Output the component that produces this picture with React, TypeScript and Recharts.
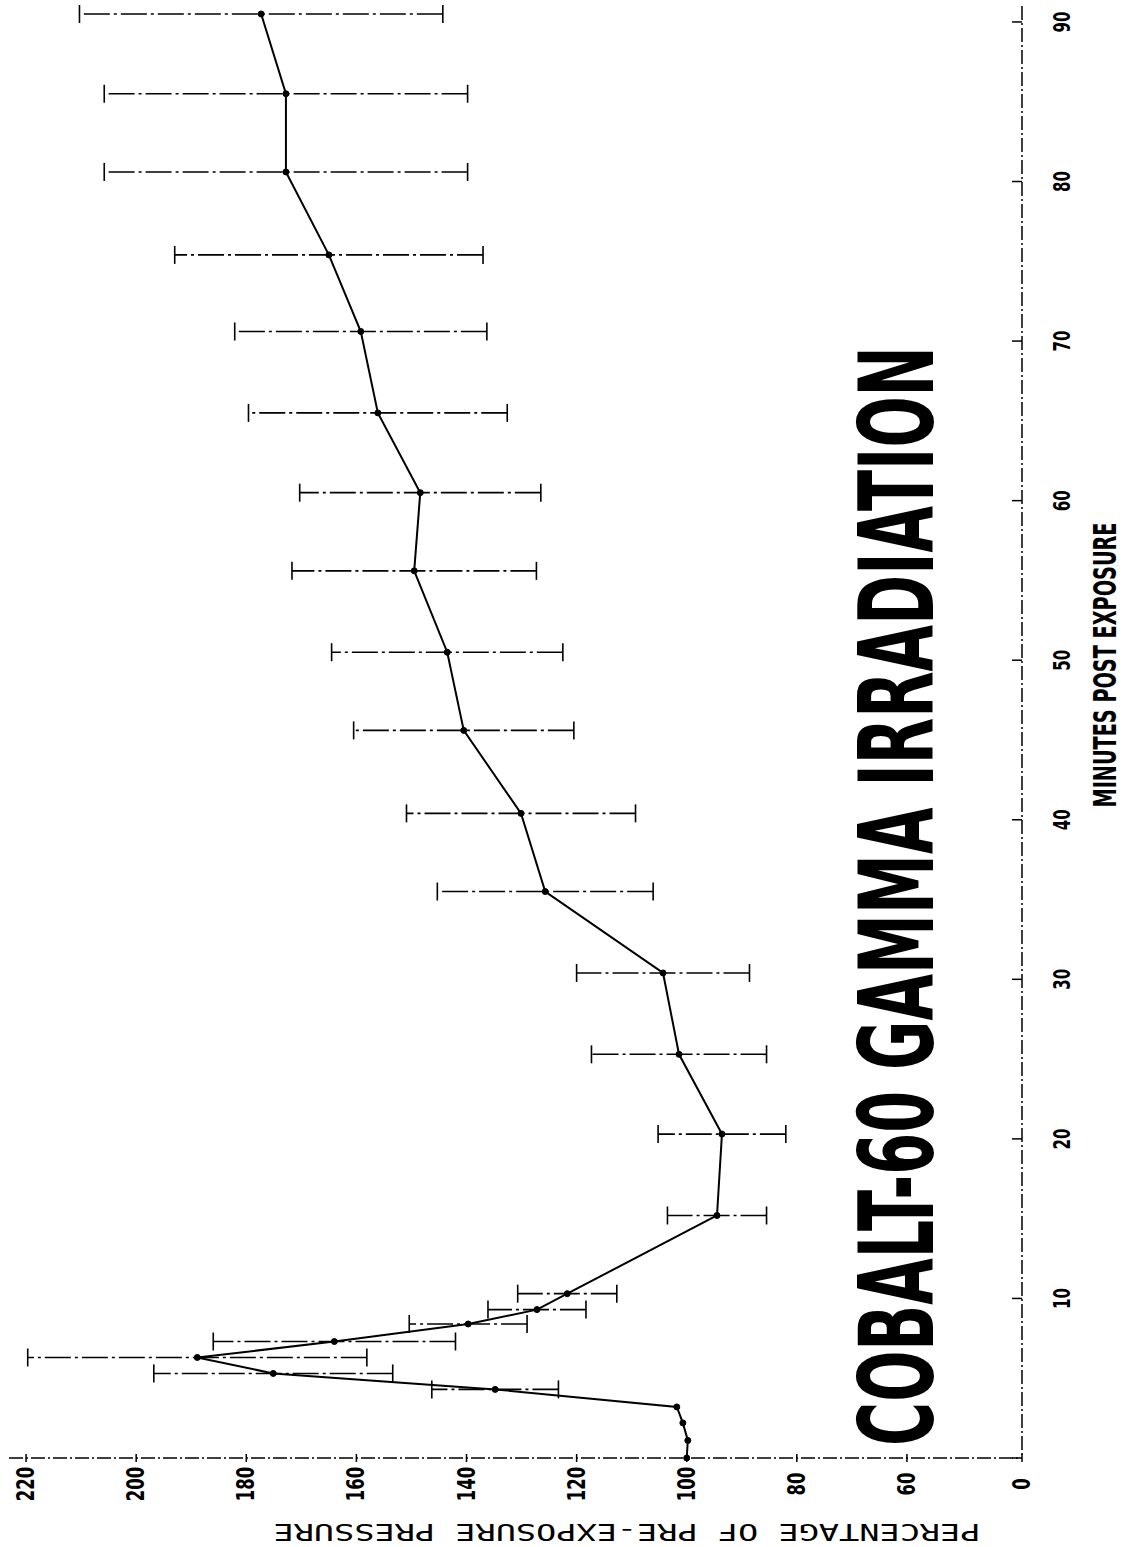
import React from 'react';
import { ComposedChart, Line, XAxis, YAxis, ErrorBar } from 'recharts';

// ---- data (minutes post exposure, % of pre-exposure pressure, +/- error)
const minutes = [0, 1.1, 2.2, 3.2, 4.3, 5.3, 6.3, 7.3, 8.4, 9.3, 10.3, 15.2, 20.3, 25.3, 30.4, 35.5, 40.4, 45.6, 50.5, 55.6, 60.5, 65.5, 70.6, 75.4, 80.6, 85.5, 90.5];
const percentages = [100, 99.8, 100.7, 101.8, 134.8, 175.1, 188.9, 164, 139.7, 127.2, 121.7, 94.5, 93.6, 101.4, 104.3, 125.7, 130.1, 140.5, 143.5, 149.5, 148.4, 156.1, 159.2, 165.0, 172.8, 172.8, 177.3];
const errors: (number | null)[] = [null, null, null, null, 11.5, 21.7, 30.8, 22, 10.7, 8.9, 9, 9, 11.6, 15.9, 15.7, 19.6, 20.8, 20, 21, 22.2, 21.9, 23.5, 22.9, 28, 33, 33, 33];

const percentTicks = [60, 80, 100, 120, 140, 160, 180, 200, 220];
const minuteTicks = [0, 10, 20, 30, 40, 50, 60, 70, 80, 90];
const AXIS_BREAK = 39.1; // broken axis: this position carries the "0" label
const AXIS_BREAK_LABEL = '0';
const PCT_DOMAIN: [number, number] = [AXIS_BREAK, 223.1];
const MIN_DOMAIN: [number, number] = [0, 91];

const TITLE = 'COBALT-60 GAMMA IRRADIATION';
const X_TITLE = 'MINUTES POST EXPOSURE';
const Y_TITLE = 'PERCENTAGE OF PRE-EXPOSURE PRESSURE';

const data = minutes.map((m, i) => ({ minute: m, pct: percentages[i], err: errors[i] }));

// ---- layout
const W = 1127;
const H = 1547;
const MARGIN = { top: 6, right: 0, bottom: 0, left: 9 };
const Y_AXIS_W = 105;
const X_AXIS_H = 89;
const PLOT_RIGHT = W - MARGIN.right - Y_AXIS_W;
const PLOT_BOTTOM = H - MARGIN.bottom - X_AXIS_H;

const BOLD_FONT = '"Liberation Sans Narrow", "DejaVu Sans Condensed", "DejaVu Sans", sans-serif';
const MONO_FONT = '"DejaVu Sans Mono", "Liberation Mono", monospace';
const AXIS_DASH = '14 3 2 3';

const PctTick = (props: any) => {
  const { x, payload } = props;
  const v = payload.value;
  const label = v === AXIS_BREAK ? AXIS_BREAK_LABEL : String(v);
  const cy = 1484;
  return (
    <g>
      <line x1={x} x2={x} y1={PLOT_BOTTOM - 4} y2={PLOT_BOTTOM + 4} stroke="#000" strokeWidth={1.5} />
      <g transform={`translate(${x} ${cy}) rotate(-90)`}>
        <text
          x={0}
          y={0}
          textAnchor="middle"
          dominantBaseline="central"
          fontSize={24}
          fontWeight="bold"
          fontFamily={BOLD_FONT}
          textLength={label.length * 11.5}
          lengthAdjust="spacingAndGlyphs"
          fill="#000"
        >
          {label}
        </text>
      </g>
    </g>
  );
};

const MinuteTick = (props: any) => {
  const { y, payload } = props;
  const v = payload.value;
  const label = v === 0 ? '' : String(v);
  const cx = 1062;
  return (
    <g>
      <line x1={PLOT_RIGHT - 10} x2={PLOT_RIGHT} y1={y} y2={y} stroke="#000" strokeWidth={1.5} />
      {label && (
        <g transform={`translate(${cx} ${y}) rotate(-90)`}>
          <text
            x={0}
            y={0}
            textAnchor="middle"
            dominantBaseline="central"
            fontSize={23}
            fontWeight="bold"
            fontFamily={BOLD_FONT}
            textLength={label.length * 10.5}
            lengthAdjust="spacingAndGlyphs"
            fill="#000"
          >
            {label}
          </text>
        </g>
      )}
    </g>
  );
};

export default function App() {
  return (
    <div style={{ position: 'absolute', left: 0, top: 0, width: W, height: H, background: '#fff' }}>
      <ComposedChart width={W} height={H} data={data} layout="vertical" margin={MARGIN}>
        <XAxis
          type="number"
          domain={PCT_DOMAIN}
          reversed
          ticks={[AXIS_BREAK, ...percentTicks]}
          interval={0}
          height={X_AXIS_H}
          axisLine={{ stroke: '#000', strokeWidth: 1.5, strokeDasharray: AXIS_DASH }}
          tickLine={false}
          tick={<PctTick />}
        />
        <YAxis
          type="number"
          dataKey="minute"
          orientation="right"
          reversed
          domain={MIN_DOMAIN}
          ticks={minuteTicks}
          interval={0}
          width={Y_AXIS_W}
          axisLine={{ stroke: '#000', strokeWidth: 1.5, strokeDasharray: AXIS_DASH }}
          tickLine={false}
          tick={<MinuteTick />}
        />
        <Line
          dataKey="pct"
          stroke="#000"
          strokeWidth={2}
          dot={{ r: 3, fill: '#000', stroke: '#000', strokeWidth: 1 }}
          isAnimationActive={false}
        >
          <ErrorBar
            dataKey="err"
            direction="x"
            width={9}
            stroke="#000"
            strokeWidth={1.6}
            strokeDasharray="26 4 3 4"
          />
        </Line>
      </ComposedChart>
      <svg
        width={W}
        height={H}
        style={{ position: 'absolute', left: 0, top: 0, pointerEvents: 'none' }}
      >
        <g transform="translate(897 896) rotate(-90) scale(1 1.75)">
          <text
            x={0}
            y={0}
            textAnchor="middle"
            dominantBaseline="central"
            fontSize={59}
            fontWeight="bold"
            fontFamily={BOLD_FONT}
            textLength={1100}
            lengthAdjust="spacingAndGlyphs"
            fill="#000"
          >
            {TITLE}
          </text>
        </g>
        <g transform="translate(1105 665) rotate(-90)">
          <text
            x={0}
            y={0}
            textAnchor="middle"
            dominantBaseline="central"
            fontSize={32}
            fontWeight="bold"
            fontFamily={BOLD_FONT}
            textLength={285}
            lengthAdjust="spacingAndGlyphs"
            fill="#000"
          >
            {X_TITLE}
          </text>
        </g>
        <g transform="translate(627 1532) rotate(180)">
          <text
            x={0}
            y={0}
            textAnchor="middle"
            dominantBaseline="central"
            fontSize={23}
            fontFamily={MONO_FONT}
            textLength={707}
            lengthAdjust="spacingAndGlyphs"
            fill="#000"
          >
            {Y_TITLE}
          </text>
        </g>
      </svg>
    </div>
  );
}
